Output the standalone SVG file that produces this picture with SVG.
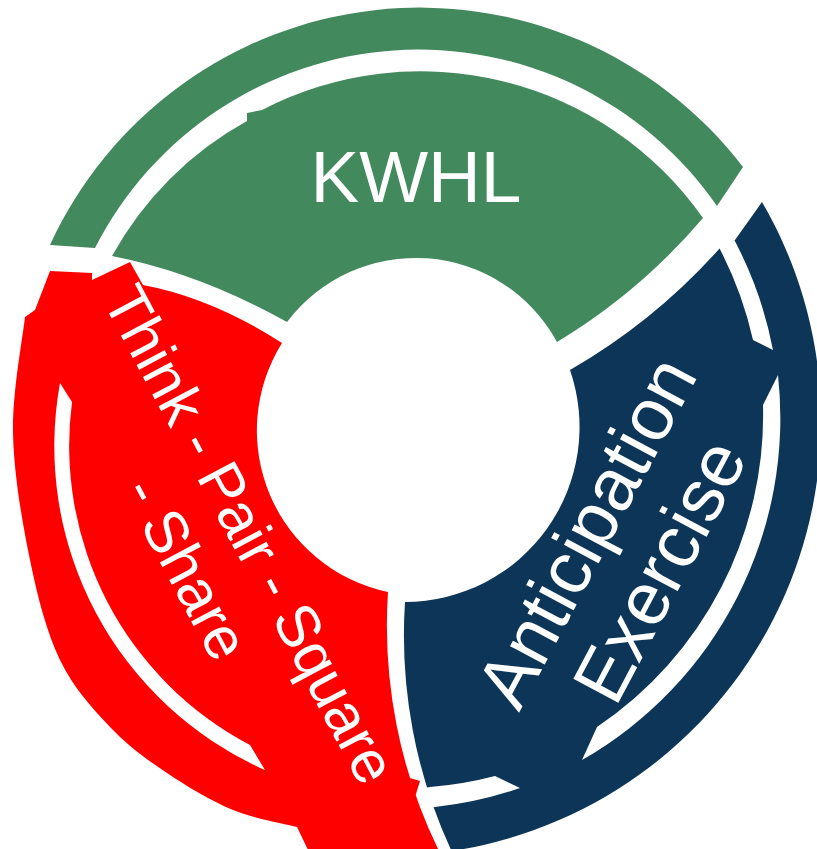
<svg xmlns="http://www.w3.org/2000/svg" width="817" height="849" viewBox="0 0 817 849">
  <style>
    .green { fill: #43895E; }
    .navy { fill: #0C3557; }
    .red { fill: #FF0000; }
    .gap { fill: #FFFFFF; }
    .label { fill: #FFFFFF; font-family: "Liberation Sans", Arial, sans-serif; text-anchor: middle; }
  </style>
  <rect width="817" height="849" fill="#FFFFFF"/>

  <!-- Top segment: outer arc band and inner block -->
  <g id="node-kwhl">
    <path class="green" d="M50,245 A407,407 0 0 1 743,167 L717,206 A363,363 0 0 0 95,248 Z"/>
    <path class="green" d="M112,256 A342,342 0 0 1 247,121 L247,113 L262,110 A345,345 0 0 1 703,218 Q640,292 557,342 A161,161 0 0 0 287,322 Q199,273 112,256 Z"/>
    <text class="label" x="416" y="202" font-size="73">KWHL</text>
  </g>

  <!-- Right segment: block and outer arrow joined, with white separating bands -->
  <g id="node-anticipation">
    <path class="navy" d="M762,202 A435,435 0 0 1 458,850 L452,852 A512,512 0 0 1 405,602 A175,175 0 0 0 570,370 Q655,321 720,248 L735,240 Z"/>
    <path class="gap" d="M730,232 A394,394 0 0 1 773,350 L753,340 A376,376 0 0 0 715,240 Z"/>
    <path class="gap" d="M778,375 A394,394 0 0 1 582,760 L597,727 A376,376 0 0 0 763,405 Z"/>
    <path class="gap" d="M426,808 L435,807 A390,390 0 0 0 520,788 L495,776 A371,371 0 0 1 430,787 L424,788 Z"/>
    <g transform="translate(645,563) rotate(-62)">
      <text class="label" x="0" y="-41" font-size="74">Anticipation</text>
      <text class="label" x="0" y="42" font-size="74">Exercise</text>
    </g>
  </g>

  <!-- Left segment: block and outer arrow joined, with white separating band -->
  <g id="node-think-pair-square-share">
    <path class="red" d="M50,271 L92,273 L92,280 L130,262 L143,285 Q212,298 282,343 A165,165 0 0 0 388,592 A512,512 0 0 0 440,853 L440,856 L311,856 L297,827 C286.3,824.2 254.7,819 233,810 C211.3,801 187.5,786.8 167,773 C146.5,759.2 127.8,745.8 110,727 C92.2,708.2 73.3,687.8 60,660 C46.7,632.2 37.8,597.8 30,560 C22.2,522.2 13.8,473.5 13,433 C12.2,392.5 23,336.3 25,317 L35,310 Z"/>
    <path class="red" d="M410,778 L420,781 L415,797 Z"/>
    <path class="gap" d="M60,383 A354,354 0 0 0 265,770 L250,745 A338,338 0 0 1 72,402 Z"/>
    <g transform="translate(200,561) rotate(62)">
      <text class="label" x="0" y="-36" font-size="60">Think - Pair - Square</text>
      <text class="label" x="0" y="36" font-size="60">- Share</text>
    </g>
  </g>
</svg>
